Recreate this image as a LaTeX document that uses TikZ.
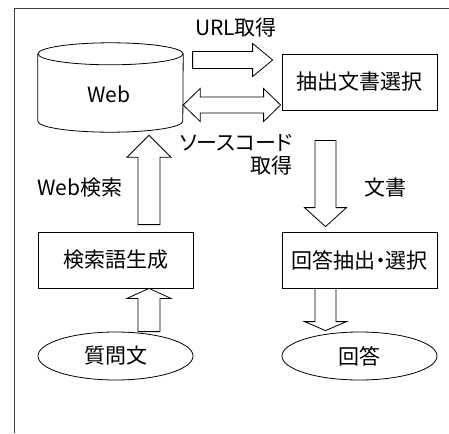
\documentclass[tikz,border=0pt]{standalone}
\usepackage{fontspec}
\setmainfont{Noto Sans CJK JP}
\newfontfamily\kanafont[RawFeature=+palt]{Noto Sans CJK JP}
\usetikzlibrary{calc}
\usetikzlibrary{shapes.geometric}
\tikzset{
	boxstyle/.style={rectangle,draw=black,fill=white,line width=0.8pt,minimum width=155,minimum height=56,inner sep=0,font=\fontsize{21}{24}\selectfont},
	ovalstyle/.style={ellipse,draw=black,fill=white,line width=0.8pt,minimum width=155,minimum height=48,inner sep=0,font=\fontsize{21}{24}\selectfont},
	dbstyle/.style={rectangle,minimum width=145,minimum height=67,inner sep=0},
	labelstyle/.style={inner sep=0,font=\fontsize{21}{24}\selectfont},
	fatline/.style={draw=black,fill=white,line width=0.8pt,line join=miter}
}
% #1 base, #2 tip, #3 half shaft, #4 half head, #5 head length
\newcommand{\blockarrow}[5]{%
	\path[fatline] let \p1=(#1), \p2=(#2),
		\n1={atan2(\y2-\y1,\x2-\x1)}, \n2={veclen(\x2-\x1,\y2-\y1)} in
		[shift={(\p1)},rotate=\n1]
		(0pt,#3pt) -- ({\n2-#5pt},#3pt) -- ({\n2-#5pt},#4pt) -- ({\n2},0pt)
		-- ({\n2-#5pt},-#4pt) -- ({\n2-#5pt},-#3pt) -- (0pt,-#3pt) -- cycle;}
\newcommand{\blockdarrow}[5]{%
	\path[fatline] let \p1=(#1), \p2=(#2),
		\n1={atan2(\y2-\y1,\x2-\x1)}, \n2={veclen(\x2-\x1,\y2-\y1)} in
		[shift={(\p1)},rotate=\n1]
		(0pt,0pt) -- (#5pt,#4pt) -- (#5pt,#3pt) -- ({\n2-#5pt},#3pt) -- ({\n2-#5pt},#4pt)
		-- ({\n2},0pt) -- ({\n2-#5pt},-#4pt) -- ({\n2-#5pt},-#3pt) -- (#5pt,-#3pt)
		-- (#5pt,-#4pt) -- cycle;}

\begin{document}
\begin{tikzpicture}[x=1pt,y=-1pt]
	\useasboundingbox (0,0) rectangle (449,433);
	\draw[line width=0.8pt,black!75] (449,8) -- (14,8) -- (14,433);

	% database drum
	\node[dbstyle] (web) at (110.5,87.5) {};
	\path[fatline] (web.north west) -- (web.south west)
		arc[start angle=180,end angle=360,x radius=72.5pt,y radius=11pt]
		-- (web.north east);
	\path[fatline] (web.north) ellipse[x radius=72.5pt,y radius=11pt];
	\node[labelstyle] (webtxt) at (109,94) {Web};

	\node[boxstyle] (extract) at (359.5,82) {抽出文書選択};
	\node[boxstyle] (gen) at (115.5,260) {検索語生成};
	\node[boxstyle,font=\fontsize{21}{24}\selectfont\kanafont] (ans) at (359.5,260) {回答抽出・選択};
	\node[ovalstyle] (question) at (115.5,356) {質問文};
	\node[ovalstyle] (answer) at (359.5,356) {回答};

	\coordinate (urlbase) at ($(extract.west)+(-89,-22)$);
	\coordinate (urltip) at ($(extract.west)+(-9,-22)$);
	\blockarrow{urlbase}{urltip}{8.5}{16.5}{20}
	\coordinate (srcright) at ($(extract.west)+(-1,23)$);
	\coordinate (srcleft) at (web.east |- srcright);
	\blockdarrow{srcleft}{srcright}{8}{16.5}{17}
	\coordinate (searchbase) at ($(gen.north)+(33.5,-7)$);
	\coordinate (searchtip) at ($(web.south)+(38.5,14)$);
	\blockarrow{searchbase}{searchtip}{11}{22}{22}
	\coordinate (qbase) at ($(question.north)+(33.5,0)$);
	\coordinate (qtip) at ($(gen.south)+(33.5,0)$);
	\blockarrow{qbase}{qtip}{11}{22}{10}
	\coordinate (docbase) at ($(extract.south)+(-34,30)$);
	\coordinate (doctip) at ($(ans.north)+(-34,-5)$);
	\blockarrow{docbase}{doctip}{10.5}{21}{19}
	\coordinate (abase) at ($(ans.south)+(-34,0)$);
	\coordinate (atip) at ($(answer.north)+(-34,-1)$);
	\blockarrow{abase}{atip}{10.5}{21}{9}

	\node[labelstyle] (urllbl) at (236,28) {URL取得};
	\node[labelstyle,align=right,anchor=north east,font=\fontsize{21}{23}\selectfont\kanafont] (srclbl) at (293,134) {ソースコード\\取得};
	\node[labelstyle,anchor=west] (searchlbl) at (37,188) {Web検索};
	\node[labelstyle,anchor=west] (doclbl) at (364,188) {文書};
\end{tikzpicture}
\end{document}
